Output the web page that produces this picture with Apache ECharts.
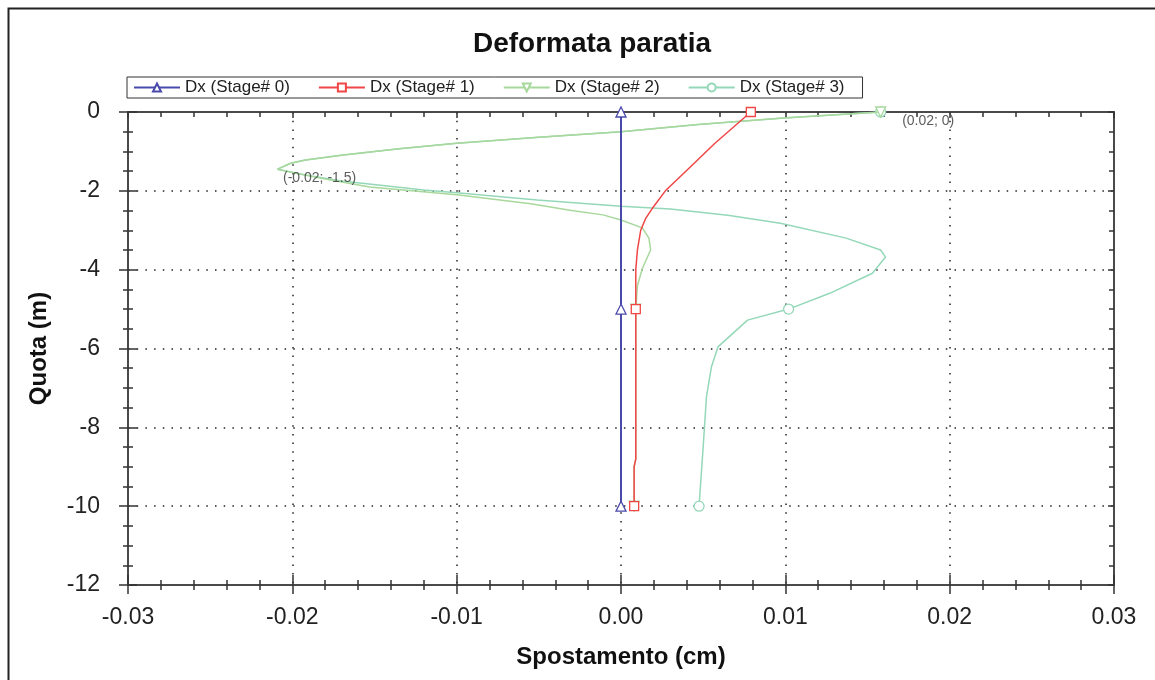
<!DOCTYPE html>
<html>
<head>
<meta charset="utf-8">
<script src="https://cdn.jsdelivr.net/npm/echarts@6/dist/echarts.min.js"></script>
<style>html,body{margin:0;padding:0;background:#fff;}#c{width:1155px;height:680px;}</style>
</head>
<body>
<div id="c"></div>
<script>
// ---- data (x = spostamento cm, y = quota m) ----
var seriesNames = ['Dx (Stage# 0)', 'Dx (Stage# 1)', 'Dx (Stage# 2)', 'Dx (Stage# 3)'];
var markerDepths = [0, -5, -10];
var xTicks = [-0.03, -0.02, -0.01, 0, 0.01, 0.02, 0.03];
var yTicks = [0, -2, -4, -6, -8, -10, -12];

var stage0 = [[0, 0], [0, -5], [0, -10]];
var stage1 = [[0.0079, 0], [0.0068, -0.4], [0.0057, -0.8], [0.0042, -1.4], [0.0027, -2.0], [0.0019, -2.45],
  [0.0015, -2.7], [0.0012, -3.0], [0.001, -3.5], [0.0009, -4.0], [0.0009, -5], [0.0009, -7], [0.0009, -8.8],
  [0.0008, -9.0], [0.0008, -10]];
var stage2 = [[0.0158, 0], [0.0099, -0.15], [0.0047, -0.32], [0, -0.5], [-0.005, -0.64], [-0.01, -0.79],
  [-0.0135, -0.93], [-0.0169, -1.09], [-0.0192, -1.22], [-0.0201, -1.3], [-0.0209, -1.45],
  [-0.0196, -1.57], [-0.018, -1.7], [-0.0153, -1.9], [-0.01, -2.1], [-0.0055, -2.33], [-0.0031, -2.49],
  [-0.0011, -2.61], [0, -2.74], [0.0013, -2.94], [0.0017, -3.2], [0.0018, -3.5], [0.0013, -3.97],
  [0.001, -4.4], [0.0009, -5], [0.0009, -7], [0.0009, -8.8], [0.0008, -9.0], [0.0008, -10]];
var stage3 = [[0.0158, 0], [0.0099, -0.15], [0.0047, -0.32], [0, -0.5], [-0.005, -0.64], [-0.01, -0.79],
  [-0.0135, -0.93], [-0.0169, -1.09], [-0.0192, -1.22], [-0.0201, -1.3], [-0.0209, -1.45],
  [-0.0192, -1.6], [-0.017, -1.75], [-0.012, -1.98], [-0.01, -2.05], [-0.0051, -2.23], [0, -2.39],
  [0.003, -2.46], [0.0065, -2.62], [0.0097, -2.82], [0.0137, -3.2], [0.0158, -3.5], [0.0161, -3.68],
  [0.0153, -4.09], [0.0127, -4.6], [0.0102, -5], [0.0077, -5.28], [0.0059, -5.96], [0.0055, -6.47],
  [0.0052, -7.23], [0.005, -8.5], [0.00475, -10]];

// annotation points (value labels shown on the chart)
var annotationPoints = [[0.0158, 0], [-0.0209, -1.45]];
var annotationTexts = ['(0.02; 0)', '(-0.02; -1.5)'];

var colors = ['#4a4aac', '#f04646', '#a8d89c', '#94d8b8'];
var symbols = ['triangle', 'rect', 'triangle', 'circle'];
var rotates = [0, 0, 180, 0];

function buildData(arr) {
  return arr.map(function (p) {
    var item = { value: p };
    if (markerDepths.indexOf(p[1]) < 0) item.symbol = 'none';
    return item;
  });
}

var font = 'Liberation Sans, Arial, sans-serif';
var stages = [stage0, stage1, stage2, stage3];
var series = stages.map(function (arr, i) {
  return {
    name: seriesNames[i], type: 'line', xAxisIndex: 0, yAxisIndex: 0,
    data: buildData(arr), symbol: symbols[i], symbolRotate: rotates[i],
    symbolSize: i === 1 ? 9 : 10, showSymbol: true, animation: false, z: [6, 5, 4, 3][i],
    lineStyle: { color: colors[i], width: i === 0 ? 2 : 1.5 },
    itemStyle: { color: '#fff', borderColor: colors[i], borderWidth: 1.3 },
    emphasis: { disabled: true }
  };
});
series.push({
  name: 'annotations', type: 'scatter', xAxisIndex: 0, yAxisIndex: 0, silent: true, z: 8,
  symbolSize: 1, itemStyle: { color: 'rgba(0,0,0,0)' },
  data: annotationPoints.map(function (p, i) {
    return {
      value: p,
      label: {
        show: true, formatter: annotationTexts[i], position: 'right', align: 'left', verticalAlign: 'top',
        offset: i === 0 ? [16, 2] : [0, 2], color: '#333', fontSize: 14, fontFamily: font
      }
    };
  })
});

var xMin = xTicks[0], xMax = xTicks[xTicks.length - 1];
var yMin = yTicks[yTicks.length - 1], yMax = yTicks[0];

function xAxisBase(pos) {
  return { type: 'value', position: pos, min: xMin, max: xMax, interval: 0.01, gridIndex: 0 };
}
function yAxisBase(pos) {
  return { type: 'value', position: pos, min: yMin, max: yMax, interval: 2, gridIndex: 0 };
}
var axisLineStyle = { color: '#4a4a4a', width: 2 };
var tickStyle = { color: '#333', width: 1.5 };

var option = {
  backgroundColor: '#fff',
  animation: false,
  title: {
    text: 'Deformata paratia', left: 587, top: 25, textAlign: 'center',
    textStyle: { fontFamily: font, fontSize: 28, fontWeight: 'bold', color: '#111' }
  },
  legend: {
    left: 127, top: 77, padding: [2, 18, 2, 6], itemGap: 28, itemWidth: 46, itemHeight: 10,
    borderColor: '#333', borderWidth: 1, borderRadius: 0,
    textStyle: { fontFamily: font, fontSize: 17, color: '#222' },
    data: seriesNames
  },
  grid: { left: 128, right: 41, top: 112, bottom: 95, containLabel: false },
  xAxis: [
    Object.assign(xAxisBase('bottom'), {
      name: 'Spostamento (cm)', nameLocation: 'middle', nameGap: 60,
      nameTextStyle: { fontFamily: font, fontSize: 24, fontWeight: 'bold', color: '#111' },
      axisLine: { show: true, onZero: false, lineStyle: axisLineStyle },
      axisTick: { show: true, inside: false, length: 9, lineStyle: tickStyle },
      minorTick: { show: true, splitNumber: 5, length: 5, lineStyle: tickStyle },
      axisLabel: { fontFamily: font, fontSize: 23, color: '#222', margin: 21,
        formatter: function (v) { return v.toFixed(2); } },
      splitLine: { show: true, lineStyle: { color: '#222', width: 1.5, type: [1.5, 7.2] } }
    }),
    Object.assign(xAxisBase('bottom'), {
      axisLine: { show: false, onZero: false },
      axisTick: { show: true, inside: true, length: 10, lineStyle: tickStyle },
      minorTick: { show: true, splitNumber: 5, length: 5, lineStyle: tickStyle },
      axisLabel: { show: false }, splitLine: { show: false }
    }),
    Object.assign(xAxisBase('top'), {
      axisLine: { show: true, onZero: false, lineStyle: axisLineStyle },
      axisTick: { show: true, inside: true, length: 6, lineStyle: tickStyle },
      minorTick: { show: true, splitNumber: 5, length: 5, lineStyle: tickStyle },
      axisLabel: { show: false }, splitLine: { show: false }
    })
  ],
  yAxis: [
    Object.assign(yAxisBase('left'), {
      name: 'Quota (m)', nameLocation: 'middle', nameGap: 77, nameRotate: 90,
      nameTextStyle: { fontFamily: font, fontSize: 24, fontWeight: 'bold', color: '#111' },
      axisLine: { show: true, onZero: false, lineStyle: axisLineStyle },
      axisTick: { show: true, inside: false, length: 9, lineStyle: tickStyle },
      minorTick: { show: true, splitNumber: 4, length: 5, lineStyle: tickStyle },
      axisLabel: { fontFamily: font, fontSize: 23, color: '#222', margin: 28 },
      splitLine: { show: true, lineStyle: { color: '#222', width: 1.5, type: [1.5, 7.2] } }
    }),
    Object.assign(yAxisBase('left'), {
      axisLine: { show: false, onZero: false },
      axisTick: { show: true, inside: true, length: 9, lineStyle: tickStyle },
      minorTick: { show: true, splitNumber: 4, length: 5, lineStyle: tickStyle },
      axisLabel: { show: false }, splitLine: { show: false }
    }),
    Object.assign(yAxisBase('right'), {
      axisLine: { show: true, onZero: false, lineStyle: axisLineStyle },
      axisTick: { show: true, inside: true, length: 6, lineStyle: tickStyle },
      minorTick: { show: true, splitNumber: 4, length: 5, lineStyle: tickStyle },
      axisLabel: { show: false }, splitLine: { show: false }
    })
  ],
  graphic: [{
    type: 'polyline', silent: true,
    shape: { points: [[8.5, 690], [8.5, 8.5], [1160, 8.5]] },
    style: { stroke: '#222', lineWidth: 2, fill: null }
  }],
  series: series
};

var chart = echarts.init(document.getElementById('c'), null, { renderer: 'canvas' });
chart.setOption(option);
</script>
</body>
</html>
